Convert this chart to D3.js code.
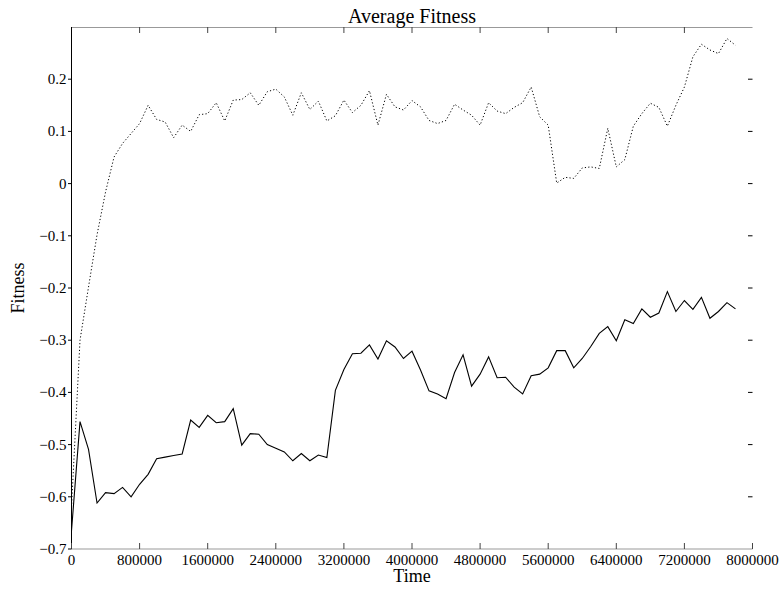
<!DOCTYPE html>
<html>
<head>
<meta charset="utf-8">
<script src="https://cdn.jsdelivr.net/npm/d3@7"></script>
<style>
  body { margin: 0; background: #fff; }
  text { font-family: "Liberation Serif", "Times New Roman", serif; fill: #000; }
</style>
</head>
<body>
<div class="chart"></div>
<script>
// time step between samples
var step = 100000;

// upper (dotted) series
var best = [
  -0.62, -0.30, -0.198, -0.098, -0.016, 0.051, 0.077, 0.096, 0.115, 0.150,
  0.123, 0.118, 0.088, 0.112, 0.100, 0.132, 0.134, 0.155, 0.120, 0.160,
  0.161, 0.174, 0.150, 0.176, 0.181, 0.166, 0.131, 0.174, 0.142, 0.158,
  0.120, 0.130, 0.160, 0.136, 0.150, 0.178, 0.112, 0.171, 0.147, 0.141,
  0.159, 0.147, 0.121, 0.115, 0.121, 0.152, 0.141, 0.131, 0.112, 0.155,
  0.139, 0.134, 0.146, 0.155, 0.185, 0.128, 0.112, 0.001, 0.012, 0.010,
  0.030, 0.032, 0.029, 0.106, 0.032, 0.046, 0.110, 0.134, 0.154, 0.146,
  0.110, 0.150, 0.185, 0.243, 0.267, 0.256, 0.249, 0.278, 0.265
];

// lower (solid) series
var avg = [
  -0.665, -0.456, -0.509, -0.612, -0.592, -0.594, -0.582, -0.600, -0.576, -0.557,
  -0.527, -0.524, -0.521, -0.518, -0.453, -0.467, -0.444, -0.458, -0.456, -0.431,
  -0.501, -0.479, -0.480, -0.500, -0.507, -0.514, -0.531, -0.517, -0.531, -0.520,
  -0.525, -0.396, -0.356, -0.326, -0.325, -0.309, -0.336, -0.301, -0.313, -0.335,
  -0.321, -0.357, -0.397, -0.403, -0.412, -0.362, -0.328, -0.388, -0.365, -0.332,
  -0.372, -0.371, -0.390, -0.403, -0.368, -0.365, -0.353, -0.320, -0.320, -0.353,
  -0.335, -0.312, -0.287, -0.274, -0.301, -0.261, -0.268, -0.240, -0.256, -0.248,
  -0.207, -0.245, -0.224, -0.241, -0.218, -0.258, -0.245, -0.228, -0.240
];

var xTicks = [0, 800000, 1600000, 2400000, 3200000, 4000000, 4800000, 5600000, 6400000, 7200000, 8000000];
var yTicks = [-0.7, -0.6, -0.5, -0.4, -0.3, -0.2, -0.1, 0, 0.1, 0.2];

var W = 782, H = 590;
var margin = { top: 27, right: 30, bottom: 41, left: 71.5 };
var width = 752.5 - margin.left;
var height = H - margin.top - margin.bottom;

var svg = d3.select(".chart").append("svg")
  .attr("width", W)
  .attr("height", H);

var g = svg.append("g")
  .attr("transform", `translate(${margin.left}, ${margin.top})`);

var x = d3.scaleLinear().domain([0, 8000000]).range([0, width]);
var y = d3.scaleLinear().domain([-0.7, 0.3]).range([height, 0]);

// frame: grey top and bottom, black left
g.append("line").attr("x1", 0).attr("x2", width).attr("y1", 0.5).attr("y2", 0.5)
  .attr("stroke", "#999");
g.append("line").attr("x1", 0).attr("x2", width).attr("y1", height).attr("y2", height)
  .attr("stroke", "#999");
g.append("line").attr("x1", 0).attr("x2", 0).attr("y1", 0).attr("y2", height)
  .attr("stroke", "#000");

// bottom axis labels + inward ticks
var xt = g.append("g");
xt.selectAll(".tb").data(xTicks).enter().append("line")
  .attr("x1", d => x(d)).attr("x2", d => x(d))
  .attr("y1", height).attr("y2", height - 6)
  .attr("stroke", "#444");
xt.selectAll(".tt").data(xTicks.slice(1, -1)).enter().append("line")
  .attr("x1", d => x(d)).attr("x2", d => x(d))
  .attr("y1", 0).attr("y2", 6)
  .attr("stroke", "#444");
xt.selectAll("text").data(xTicks).enter().append("text")
  .attr("x", d => x(d)).attr("y", height + 15.5)
  .attr("text-anchor", "middle")
  .style("font-size", "15px")
  .text(d => d);

// left labels, left outward ticks, right inward ticks
var yt = g.append("g");
yt.selectAll(".tl").data(yTicks).enter().append("line")
  .attr("x1", -3.5).attr("x2", 0)
  .attr("y1", d => y(d)).attr("y2", d => y(d))
  .attr("stroke", "#000");
yt.selectAll(".tr").data(yTicks.slice(1)).enter().append("line")
  .attr("x1", width - 4.5).attr("x2", width)
  .attr("y1", d => y(d)).attr("y2", d => y(d))
  .attr("stroke", "#000");
yt.selectAll("text").data(yTicks).enter().append("text")
  .attr("x", -5).attr("y", d => y(d))
  .attr("dy", "0.33em")
  .attr("text-anchor", "end")
  .style("font-size", "15px")
  .text(d => d3.format("")(+d.toFixed(1)));

var line = d3.line()
  .x((d, i) => x(i * step))
  .y(d => y(d));

g.append("path").datum(best)
  .attr("d", line)
  .attr("fill", "none")
  .attr("stroke", "#000")
  .attr("stroke-width", 1)
  .attr("stroke-dasharray", "1.2,2.2");

g.append("path").datum(avg)
  .attr("d", line)
  .attr("fill", "none")
  .attr("stroke", "#000")
  .attr("stroke-width", 1.1);

// titles
svg.append("text")
  .attr("x", margin.left + width / 2).attr("y", 23)
  .attr("text-anchor", "middle")
  .style("font-size", "20px")
  .text("Average Fitness");

svg.append("text")
  .attr("x", margin.left + width / 2).attr("y", 582)
  .attr("text-anchor", "middle")
  .style("font-size", "18px")
  .text("Time");

svg.append("text")
  .attr("transform", `translate(24, ${margin.top + height / 2}) rotate(-90)`)
  .attr("text-anchor", "middle")
  .style("font-size", "18px")
  .text("Fitness");
</script>
</body>
</html>
